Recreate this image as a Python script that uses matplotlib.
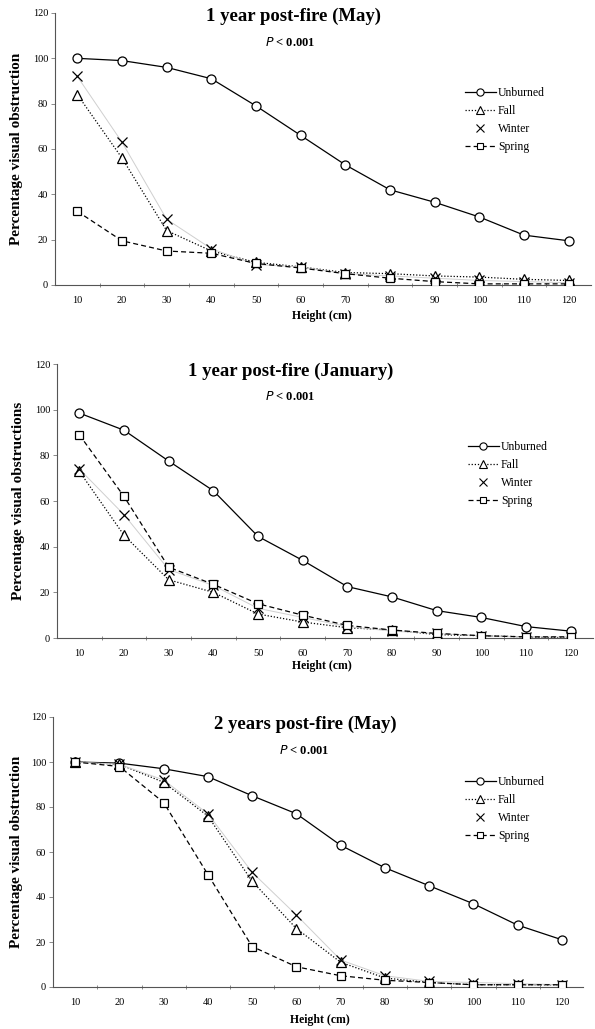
import matplotlib
matplotlib.use("Agg")
import matplotlib.pyplot as plt
from matplotlib.lines import Line2D
from matplotlib.ticker import FixedLocator

plt.rcParams["font.family"] = ["Liberation Serif", "DejaVu Serif"]

# ── datos ──────────────────────────────────────────────
heights = [10, 20, 30, 40, 50, 60, 70, 80, 90, 100, 110, 120]

# 1 year post-fire (May)
may1_unburned = [100, 99, 96, 91, 79, 66, 53, 42, 36.5, 30, 22, 19.5]
may1_fall     = [84, 56, 24, 15, 10, 8, 5.5, 5, 4, 3.5, 2.5, 2]
may1_winter   = [92, 63, 29, 16, 9, 8, 5, 4, 3, 2, 1.5, 1]
may1_spring   = [32.5, 19.5, 15, 14, 9.5, 7.5, 5, 3, 1.5, 0.5, 0.5, 0.5]

# 1 year post-fire (January)
jan_unburned = [98.5, 91, 77.5, 64.5, 44.5, 34, 22.5, 18, 12, 9, 5, 3]
jan_fall     = [73, 45, 25.5, 20, 10.5, 7, 4.5, 3.5, 1.5, 1, 0.5, 0]
jan_winter   = [74, 54, 30, 23, 13, 9, 5, 3, 2, 1, 0.5, 0.5]
jan_spring   = [89, 62, 31, 23.5, 15, 10, 5.5, 3.5, 2, 1, 0.5, 0.5]

# 2 years post-fire (May)
may2_unburned = [100, 99.5, 97, 93.5, 85, 77, 63, 53, 45, 37, 27.5, 21]
may2_fall     = [100, 99, 91, 76, 47, 26, 11, 4, 2, 1, 1, 1]
may2_winter   = [100, 99, 92, 77, 51, 32, 12, 5, 2.5, 2, 1.5, 1]
may2_spring   = [100, 98, 82, 50, 18, 9, 5, 3, 2, 1, 1, 1]

panels = [
    ("1 year post-fire (May)", "Percentage visual obstruction",
     [may1_unburned, may1_fall, may1_winter, may1_spring]),
    ("1 year post-fire (January)", "Percentage visual obstructions",
     [jan_unburned, jan_fall, jan_winter, jan_spring]),
    ("2 years post-fire (May)", "Percentage visual obstruction",
     [may2_unburned, may2_fall, may2_winter, may2_spring]),
]

W, H = 595, 1029
fig = plt.figure(figsize=(W / 100, H / 100), dpi=100)

def px(x, y):
    return x / W, 1 - y / H

# (left, top, right, bottom) en pixeles + posiciones de titulo, P, leyenda, etiquetas
layout = [
    dict(box=(55, 13, 591, 285), title=(293, 16), p=(290, 43), leg=(465, 87), xl=(322, 316), yl=17),
    dict(box=(57, 364, 593, 638), title=(291, 371), p=(290, 397), leg=(468, 441), xl=(322, 666), yl=19),
    dict(box=(53, 717, 584, 987), title=(305, 724), p=(304, 751), leg=(465, 776), xl=(320, 1020), yl=17),
]

styles = [
    dict(label="Unburned", color="black", ls="-", lw=0.9, marker="o", ms=6.5),
    dict(label="Fall", color="black", ls=(0, (1, 1.5)), lw=0.9, marker="^", ms=6.5),
    dict(label="Winter", color="#cfcfcf", ls="-", lw=0.7, marker="x", ms=6.5),
    dict(label="Spring", color="black", ls=(0, (4, 2.5)), lw=0.9, marker="s", ms=6),
]

for (title, ylabel, series), lay in zip(panels, layout):
    l, t, r, b = lay["box"]
    x0, y0 = px(l, b)
    ax = fig.add_axes([x0, y0, (r - l) / W, (b - t) / H])
    for vals, st in zip(series, styles):
        ax.plot(heights, vals, color=st["color"], ls=st["ls"], lw=st["lw"],
                marker=st["marker"], ms=st["ms"], mfc="white", mec="black",
                mew=0.9, zorder=3)
    ax.set_xlim(5, 125)
    ax.set_ylim(0, 120)
    ax.set_yticks(range(0, 121, 20))
    ax.set_xticks(heights)
    ax.xaxis.set_minor_locator(FixedLocator(range(15, 125, 10)))
    ax.tick_params(axis="x", which="major", length=0, labelsize=7.5, pad=8)
    ax.tick_params(axis="x", which="minor", length=3, direction="inout", color="#777777", width=0.6)
    ax.tick_params(axis="y", length=3, labelsize=7.5, color="#777777", width=0.6, pad=2)
    for s in ("top", "right"):
        ax.spines[s].set_visible(False)
    for s in ("left", "bottom"):
        ax.spines[s].set_linestyle((0, (1, 1)))
        ax.spines[s].set_color("#555555")
        ax.spines[s].set_linewidth(0.8)

    fig.text(*px(*lay["title"]), title, ha="center", va="center",
             fontsize=13.5, fontweight="bold")
    fig.text(*px(*lay["p"]), r"$\bf{\it{P}}$ < 0.001", ha="center", va="center",
             fontsize=9, fontweight="bold")
    fig.text(*px(*lay["xl"]), "Height (cm)", ha="center", va="center",
             fontsize=8.5, fontweight="bold")
    fig.text(lay["yl"] / W, 1 - ((t + b) / 2) / H, ylabel, ha="center", va="center",
             rotation=90, fontsize=11, fontweight="bold")

    # leyenda: Winter solo con marcador (la linea gris casi no se ve)
    handles = [
        Line2D([], [], color=st["color"] if st["label"] != "Winter" else "none",
               ls=st["ls"], lw=st["lw"], marker=st["marker"], ms=st["ms"] * 0.8,
               mfc="white", mec="black", mew=0.8, label=st["label"])
        for st in styles
    ]
    ax.legend(handles=handles, loc="upper left", bbox_to_anchor=px(*lay["leg"]),
              bbox_transform=fig.transFigure, frameon=False, fontsize=8.5,
              handlelength=2.6, handletextpad=0.2, labelspacing=0.5,
              borderpad=0, borderaxespad=0)

fig.savefig("out.png", dpi=100)
